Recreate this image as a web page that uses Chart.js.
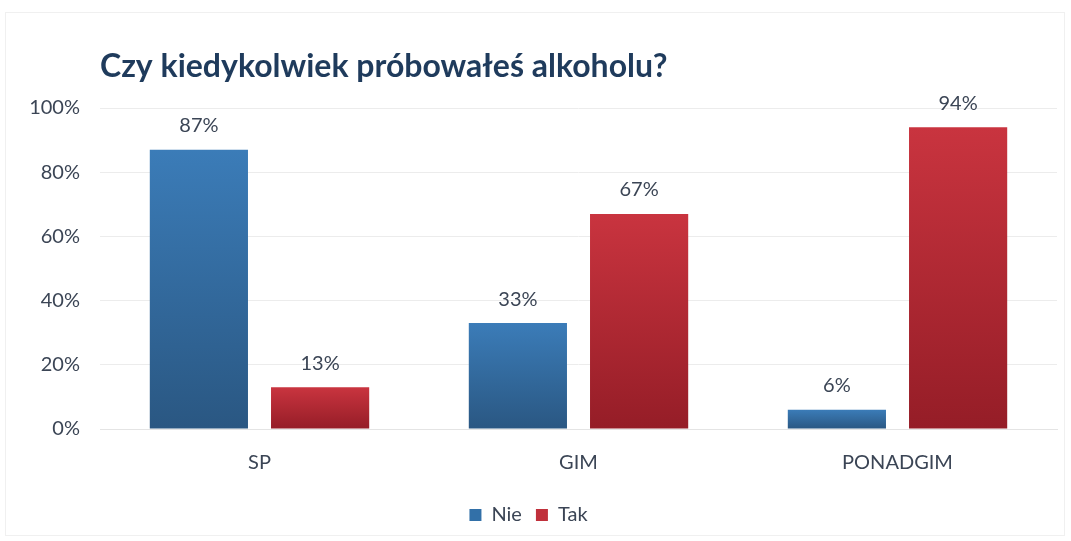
<!DOCTYPE html>
<html>
<head>
<meta charset="utf-8">
<script src="https://cdn.jsdelivr.net/npm/chart.js@4"></script>
<style>
  html, body { margin: 0; padding: 0; background: #fff; }
  #wrap { position: relative; width: 1071px; height: 541px; }
  #frame { position: absolute; left: 5px; top: 12px; width: 1060px; height: 524px; border: 1px solid #f0f0f0; box-sizing: border-box; }
  canvas { position: absolute; left: 0; top: 0; }
</style>
</head>
<body>
<div id="wrap">
  <div id="frame"></div>
  <canvas id="chart" width="1071" height="541"></canvas>
</div>
<script>
// dane z wykresu
const categories = ['SP', 'GIM', 'PONADGIM'];
const nieValues = [87, 33, 6];
const takValues = [13, 67, 94];
const yTicks = [0, 20, 40, 60, 80, 100];
const chartTitle = 'Czy kiedykolwiek próbowałeś alkoholu?';

const FONT = 'Lato, "Open Sans", sans-serif';
const TEXT = '#3b4555';

function barGradient(ctx, top, bottom) {
    const chart = ctx.chart;
    if (!chart.chartArea || ctx.type !== 'data') return bottom;
    const y = chart.scales.y;
    const yTop = y.getPixelForValue(ctx.parsed.y);
    const yBase = y.getPixelForValue(0);
    const g = chart.ctx.createLinearGradient(0, yTop, 0, yBase);
    g.addColorStop(0, top);
    g.addColorStop(1, bottom);
    return g;
}

const titlePlugin = {
    id: 'leftTitle',
    afterDraw(chart) {
        const c = chart.ctx;
        c.save();
        c.font = 'bold 32px ' + FONT;
        c.fillStyle = '#1f3b5c';
        c.textAlign = 'left';
        c.textBaseline = 'middle';
        c.fillText(chartTitle, chart.chartArea.left, 67);
        c.restore();
    }
};

const valueLabels = {
    id: 'valueLabels',
    afterDatasetsDraw(chart) {
        const c = chart.ctx;
        c.save();
        c.font = '20px ' + FONT;
        c.fillStyle = TEXT;
        c.textAlign = 'center';
        c.textBaseline = 'middle';
        chart.data.datasets.forEach((ds, i) => {
            chart.getDatasetMeta(i).data.forEach((bar, j) => {
                c.fillText(ds.data[j] + '%', bar.x, bar.y - 24);
            });
        });
        c.restore();
    }
};

new Chart(document.getElementById('chart'), {
    type: 'bar',
    data: {
        labels: categories,
        datasets: [
            {
                label: 'Nie',
                data: nieValues,
                solid: '#3270a8',
                backgroundColor: ctx => barGradient(ctx, '#3b7cb8', '#2a5782')
            },
            {
                label: 'Tak',
                data: takValues,
                solid: '#c0303b',
                backgroundColor: ctx => barGradient(ctx, '#c9343f', '#951d27')
            }
        ]
    },
    options: {
        responsive: false,
        animation: false,
        categoryPercentage: 0.76,
        barPercentage: 0.81,
        layout: { padding: { top: 108, right: 14, left: 0, bottom: 6 } },
        scales: {
            y: {
                min: 0,
                max: 100,
                afterFit: axis => { axis.width = 100; },
                afterBuildTicks: axis => { axis.ticks = yTicks.map(v => ({ value: v })); },
                ticks: {
                    padding: 20,
                    color: TEXT,
                    font: { family: FONT, size: 20 },
                    callback: v => v + '%'
                },
                grid: { color: '#ececec', drawTicks: false },
                border: { display: false }
            },
            x: {
                afterFit: axis => { axis.height = 62; },
                ticks: {
                    padding: 22,
                    color: TEXT,
                    font: { family: FONT, size: 20 }
                },
                grid: { display: false, drawTicks: false },
                border: { color: '#e4e4e4' }
            }
        },
        plugins: {
            title: { display: false },
            tooltip: { enabled: false },
            legend: {
                position: 'bottom',
                labels: {
                    color: TEXT,
                    font: { family: FONT, size: 20 },
                    boxWidth: 12,
                    boxHeight: 12,
                    padding: 14,
                    generateLabels: chart => {
                        const items = Chart.defaults.plugins.legend.labels.generateLabels(chart);
                        items.forEach(it => {
                            it.fillStyle = chart.data.datasets[it.datasetIndex].solid;
                            it.strokeStyle = 'transparent';
                            it.lineWidth = 0;
                        });
                        return items;
                    }
                }
            }
        }
    },
    plugins: [titlePlugin, valueLabels]
});
</script>
</body>
</html>
